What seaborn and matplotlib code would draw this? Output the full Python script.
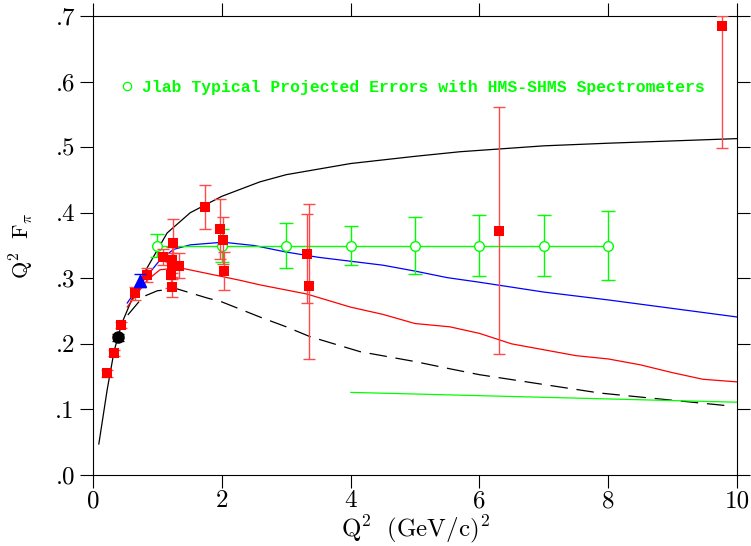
import matplotlib
matplotlib.use("Agg")
from matplotlib import pyplot as plt
from matplotlib.lines import Line2D
import seaborn as sns
import pandas as pd
import numpy as np

# measured data (red squares)
red_x = [0.22, 0.33, 0.43, 0.65, 0.84, 1.09, 1.22, 1.22, 1.34, 1.21, 1.22, 1.24,
         1.74, 1.97, 2.02, 2.03, 3.32, 3.35, 6.30, 9.77]
red_y = [0.155, 0.186, 0.229, 0.277, 0.305, 0.332, 0.328, 0.319, 0.319, 0.305, 0.287, 0.354,
         0.409, 0.375, 0.358, 0.311, 0.337, 0.288, 0.372, 0.685]
red_lo = [0.005, 0.005, 0.005, 0.010, 0.010, 0.012, 0.020, 0.020, 0.019, 0.020, 0.015, 0.037,
          0.034, 0.046, 0.036, 0.029, 0.075, 0.111, 0.187, 0.187]
red_hi = [0.005, 0.005, 0.005, 0.010, 0.010, 0.012, 0.020, 0.020, 0.019, 0.020, 0.015, 0.037,
          0.034, 0.046, 0.036, 0.029, 0.061, 0.125, 0.189, 0.015]

black_pt_x, black_pt_y, black_pt_err = [0.39], [0.210], [0.005]
blue_pt_x, blue_pt_y, blue_pt_err = [0.73], [0.296], [0.010]

# JLab projected points
jlab_x = [1, 2, 3, 4, 5, 6, 7, 8]
jlab_y = [0.35, 0.35, 0.35, 0.35, 0.35, 0.35, 0.35, 0.35]
jlab_err = [0.017, 0.025, 0.034, 0.030, 0.043, 0.046, 0.046, 0.052]

# theory curves
mono_x = [0.09, 0.22, 0.33, 0.45, 0.73, 1.15, 1.51, 2.0, 2.59, 3.0, 4.0, 5.0, 5.7, 7.0, 8.0, 10.0]
mono_y = [0.047, 0.130, 0.190, 0.232, 0.297, 0.369, 0.400, 0.425, 0.447, 0.458, 0.475, 0.486,
          0.493, 0.502, 0.506, 0.513]

blue_x = [0.53, 0.73, 1.04, 1.25, 1.51, 2.02, 2.5, 3.0, 3.5, 4.0, 4.5, 5.0, 5.5, 6.0, 7.0, 8.0, 9.0, 10.0]
blue_y = [0.262, 0.290, 0.328, 0.344, 0.351, 0.355, 0.350, 0.340, 0.332, 0.326, 0.320, 0.311,
          0.301, 0.294, 0.279, 0.267, 0.254, 0.241]

red_cx = [0.53, 0.84, 1.04, 1.35, 2.28, 2.59, 3.32, 4.0, 4.5, 5.0, 5.54, 6.0, 6.5, 7.0, 7.5, 8.0,
          8.5, 9.0, 9.47, 10.0]
red_cy = [0.256, 0.297, 0.313, 0.316, 0.297, 0.290, 0.276, 0.256, 0.245, 0.231, 0.226, 0.216,
          0.200, 0.191, 0.182, 0.177, 0.168, 0.156, 0.146, 0.142]

dash_x = [0.54, 0.78, 1.0, 1.3, 1.77, 2.0, 2.59, 3.0, 3.37, 4.15, 5.0, 5.54, 6.0, 7.0, 7.87, 9.0, 9.92]
dash_y = [0.244, 0.272, 0.281, 0.284, 0.270, 0.264, 0.241, 0.226, 0.211, 0.188, 0.173, 0.162,
          0.153, 0.138, 0.125, 0.114, 0.105]

green_cx = [4.0, 10.0]
green_cy = [0.126, 0.111]

x_ticks = [0, 2, 4, 6, 8, 10]
x_ticklabels = ['0', '2', '4', '6', '8', '10']
y_ticks = [0.0, 0.1, 0.2, 0.3, 0.4, 0.5, 0.6, 0.7]
y_ticklabels = ['.0', '.1', '.2', '.3', '.4', '.5', '.6', '.7']

legend_label = 'Jlab Typical Projected Errors with HMS-SHMS Spectrometers'

sns.set_theme(style="ticks")
plt.rcParams['font.family'] = ['cmr10', 'DejaVu Serif']
plt.rcParams['mathtext.fontset'] = 'cm'
plt.rcParams['axes.unicode_minus'] = False

GREEN = '#00ff00'
fig = plt.figure(figsize=(7.51, 5.46), dpi=100)
ax = fig.add_axes([93 / 751, 71 / 546, 644 / 751, 459 / 546])

# theory curves
sns.lineplot(x=mono_x, y=mono_y, ax=ax, color='black', lw=0.9)
sns.lineplot(x=blue_x, y=blue_y, ax=ax, color='blue', lw=0.9)
sns.lineplot(x=red_cx, y=red_cy, ax=ax, color='red', lw=0.9)
sns.lineplot(x=dash_x, y=dash_y, ax=ax, color='black', lw=0.9, linestyle=(0, (14, 7)))
sns.lineplot(x=green_cx, y=green_cy, ax=ax, color=GREEN, lw=0.9)

# projected errors
ax.errorbar(jlab_x, jlab_y, yerr=jlab_err, fmt='o', color=GREEN, mfc='white', mec=GREEN,
            ms=7, mew=1.0, capsize=5, elinewidth=1.0, capthick=1.0, ls='-', lw=1.0, zorder=3)

# data
ax.errorbar(red_x, red_y, yerr=[red_lo, red_hi], fmt='none', ecolor='#ff4a4a',
            elinewidth=1.0, capsize=4.5, capthick=1.0, zorder=4)
sns.scatterplot(x=red_x, y=red_y, ax=ax, marker='s', color='red', s=62, linewidth=0, zorder=5)

ax.errorbar(black_pt_x, black_pt_y, yerr=black_pt_err, fmt='o', color='black', ms=8,
            capsize=4, elinewidth=1.0, zorder=6)
ax.errorbar(blue_pt_x, blue_pt_y, yerr=blue_pt_err, fmt='^', color='blue', ms=8,
            capsize=4, elinewidth=1.0, zorder=6)

ax.set_xlim(0, 10)
ax.set_ylim(0, 0.7)
ax.set_xticks(x_ticks)
ax.set_xticklabels(x_ticklabels)
ax.set_yticks(y_ticks)
ax.set_yticklabels(y_ticklabels)
ax.tick_params(direction='out', length=9.5, width=0.8, top=True, right=True,
               labelsize=18, colors='black')
ax.tick_params(axis='x', pad=1.5)
ax.tick_params(axis='y', pad=3.5)
for sp in ax.spines.values():
    sp.set_visible(True)
    sp.set_color('black')
    sp.set_linewidth(0.8)

ax.set_xlabel(r'$\mathrm{Q}^2\ \ \mathrm{(GeV/c)}^2$', fontsize=18, color='black')
ax.set_ylabel(r'$\mathrm{Q}^2\ \ \mathrm{F}_\pi$', fontsize=16, color='black')
ax.xaxis.set_label_coords(0.5, -0.083)
ax.yaxis.set_label_coords(-0.088, 0.5)

handle = Line2D([], [], marker='o', ls='none', mfc='none', mec=GREEN, ms=6, mew=0.9)
leg = ax.legend([handle], [legend_label], loc='upper left', bbox_to_anchor=(0.035, 0.875),
                frameon=False, handlelength=0.6, handletextpad=0.6, borderaxespad=0,
                prop={'family': 'Liberation Mono', 'weight': 'bold', 'size': 11.8})
for t in leg.get_texts():
    t.set_color(GREEN)

fig.savefig('out.png', dpi=100)
